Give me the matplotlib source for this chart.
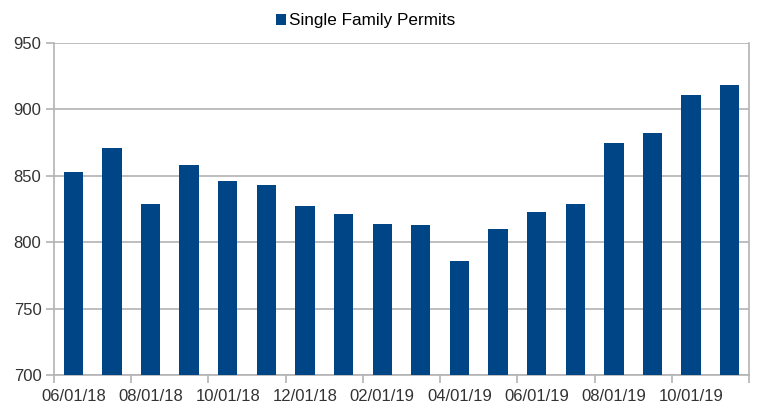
import matplotlib
matplotlib.use("Agg")
import matplotlib.pyplot as plt
import numpy as np

plt.rcParams['font.family'] = ['Liberation Sans', 'DejaVu Sans']

categories = ["06/01/18", "07/01/18", "08/01/18", "09/01/18", "10/01/18", "11/01/18",
              "12/01/18", "01/01/19", "02/01/19", "03/01/19", "04/01/19", "05/01/19",
              "06/01/19", "07/01/19", "08/01/19", "09/01/19", "10/01/19", "11/01/19"]
values = [853, 871, 829, 858, 846, 843, 827, 821, 814, 813, 786, 810, 823, 829, 875, 882, 911, 918]
series_name = "Single Family Permits"
y_ticks = [700, 750, 800, 850, 900, 950]

bar_color = "#004586"
grid_color = "#b3b3b3"

fig = plt.figure(figsize=(7.67, 4.18), dpi=100)
ax = fig.add_axes([54/767, 43/418, (749-54)/767, (375-43)/418])

x = np.arange(len(categories))
ax.bar(x, values, width=0.5, color=bar_color, label=series_name, zorder=3)

ax.set_xlim(-0.5, len(categories) - 0.5)
ax.set_ylim(y_ticks[0], y_ticks[-1])
ax.set_yticks(y_ticks)
ax.yaxis.grid(True, color=grid_color, linewidth=1.2, zorder=0)

# boundaries (major ticks, no labels) and labels at every other category
ax.set_xticks(np.arange(-0.5, len(categories), 2))
ax.set_xticklabels([])
ax.set_xticks(x[::2], minor=True)
ax.set_xticklabels(categories[::2], minor=True)
ax.tick_params(axis='x', which='minor', length=0, pad=10, labelsize=12, labelcolor='#333333')
ax.tick_params(axis='x', which='major', length=6, width=1.2, color=grid_color)
ax.tick_params(axis='y', length=6, width=1.2, color=grid_color, labelsize=12, labelcolor='#333333', pad=3)

for s in ax.spines.values():
    s.set_color(grid_color)
    s.set_linewidth(1.2)
ax.spines['top'].set_visible(False)

fig.legend(loc='center', bbox_to_anchor=(365.5/767, 1 - 21/418), frameon=False,
           fontsize=12.3, handlelength=0.6, handleheight=0.6, handletextpad=0.15,
           borderpad=0, borderaxespad=0)

fig.savefig("out.png", dpi=100)
